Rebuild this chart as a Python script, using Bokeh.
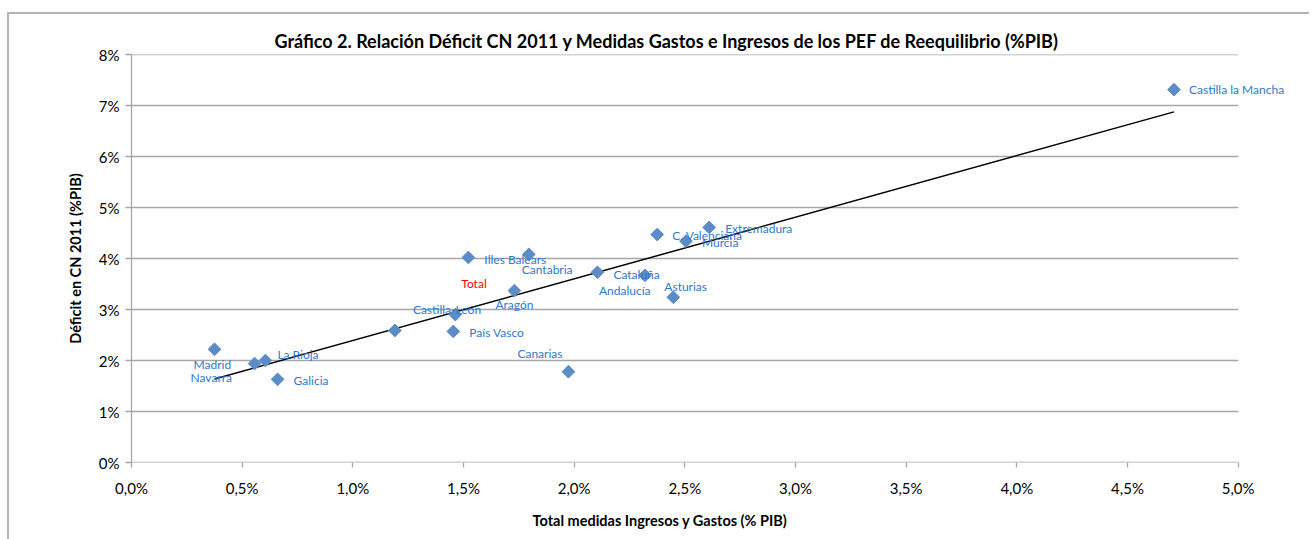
import numpy as np
from bokeh.plotting import figure
from bokeh.models import ColumnDataSource, FixedTicker, LabelSet, Range1d, Title
from bokeh.core.properties import value
from bokeh.embed import file_html
from bokeh.resources import INLINE

# ---------------- data ----------------
names = ["Castilla la Mancha", "Extremadura", "C. Valenciana", "Murcia", "Illes Balears",
         "Cantabria", "Cataluña", "Andalucía", "Asturias", "Aragón", "Total",
         "Castilla-León", "País Vasco", "Canarias", "Madrid", "Navarra", "La Rioja", "Galicia"]
medidas = [4.71, 2.61, 2.375, 2.505, 1.522, 1.795, 2.105, 2.32, 2.448, 1.73, 1.463,
           1.19, 1.454, 1.974, 0.375, 0.556, 0.605, 0.66]
deficit = [7.31, 4.61, 4.47, 4.34, 4.02, 4.08, 3.73, 3.67, 3.24, 3.37, 2.90,
           2.59, 2.57, 1.78, 2.22, 1.94, 2.00, 1.63]

x_ticks = [0.0, 0.5, 1.0, 1.5, 2.0, 2.5, 3.0, 3.5, 4.0, 4.5, 5.0]
x_tick_labels = ["0,0%", "0,5%", "1,0%", "1,5%", "2,0%", "2,5%", "3,0%", "3,5%", "4,0%", "4,5%", "5,0%"]
y_ticks = [0, 1, 2, 3, 4, 5, 6, 7, 8]
y_tick_labels = ["0%", "1%", "2%", "3%", "4%", "5%", "6%", "7%", "8%"]

title_text = "Gráfico 2. Relación Déficit CN 2011 y Medidas Gastos e Ingresos  de los PEF de Reequilibrio (%PIB)"
x_title = "Total medidas Ingresos y Gastos (% PIB)"
y_title = "Déficit en CN 2011 (%PIB)"

# label placement (screen pixels relative to each point; dy positive = downwards)
lab_dx = [15, 16, 15, 16, 16, -7, 16, -46, -9, -19, 6, 18, 16, -51, -21, -64, 12, 16]
lab_dy = [0, 1, 1, 1, 2, 15, 2, 15, -11, 14, -31, -21, 1, -18, 15, 14, -6, 1]
lab_col = ["#2f78cf"] * len(names)
lab_col[names.index("Total")] = "#ff0000"

FONT = "Lato"
GRAY = "#a6a6a6"

x_min, x_max = x_ticks[0], x_ticks[-1]
# frame extends a little beyond the last tick so the rightmost label is not clipped
p = figure(frame_width=1162, frame_height=408, output_backend="svg", toolbar_location=None,
           x_range=Range1d(x_min, 5.25), y_range=Range1d(y_ticks[0], y_ticks[-1]),
           min_border_left=122, min_border_right=16, min_border_top=40, min_border_bottom=77,
           margin=(12, 0, 0, 7),
           styles={"border-top": "2px solid #b3b3b3", "border-left": "2px solid #b3b3b3"})

p.title.text = title_text
p.title.align = "left"
p.title.offset = 143
p.title.text_font = FONT
p.title.text_font_size = "18px"
p.title.text_font_style = "bold"
p.title.text_color = "#000000"
p.title.standoff = 6

p.outline_line_color = None
p.background_fill_color = "white"
p.border_fill_color = "white"

# axes
p.xaxis.ticker = FixedTicker(ticks=x_ticks)
p.xaxis.major_label_overrides = {t: l for t, l in zip(x_ticks, x_tick_labels)}
p.yaxis.ticker = FixedTicker(ticks=y_ticks)
p.yaxis.major_label_overrides = {t: l for t, l in zip(y_ticks, y_tick_labels)}
for ax in (p.xaxis[0], p.yaxis[0]):
    ax.axis_line_color = GRAY
    ax.axis_line_width = 1.3
    ax.major_tick_line_color = GRAY
    ax.major_tick_line_width = 1.3
    ax.major_tick_in = 0
    ax.major_tick_out = 6
    ax.minor_tick_line_color = None
    ax.major_label_text_font = FONT
    ax.major_label_text_font_size = "15px"
    ax.major_label_text_color = "#000000"
    ax.axis_label_text_font = FONT
    ax.axis_label_text_font_size = "14.5px"
    ax.axis_label_text_font_style = "bold"
    ax.axis_label_text_color = "#000000"
p.xaxis.axis_line_color = None          # drawn below as a segment ending at 5,0%
p.xaxis.major_tick_out = 5
p.xaxis.major_label_standoff = 11
p.yaxis.major_label_standoff = 6
p.yaxis.axis_label = y_title
p.yaxis.axis_label_standoff = 12
p.xaxis.axis_label = None

p.xgrid.grid_line_color = None
p.ygrid.grid_line_color = None

# horizontal gridlines (and x axis line) from 0,0% to 5,0%
p.segment(x0=[x_min] * len(y_ticks), x1=[x_max] * len(y_ticks), y0=y_ticks, y1=y_ticks,
          line_color=GRAY, line_width=1.3)

# x axis title, placed slightly left of the frame centre as in the reference
p.add_layout(Title(text=x_title, align="left", offset=401, text_font=FONT,
                   text_font_size="14.5px", text_font_style="bold", text_color="#000000",
                   standoff=20), "below")

# trend line (least squares over the data)
mx = np.array(medidas)
my = np.array(deficit)
slope, icpt = np.polyfit(mx, my, 1)
tx = np.array([mx.min(), mx.max()])
p.line(tx, slope * tx + icpt, line_color="black", line_width=1.5)

src = ColumnDataSource(dict(x=medidas, y=deficit, name=names, dx=lab_dx,
                            dy=[-d for d in lab_dy], col=lab_col))
p.scatter("x", "y", source=src, marker="square", angle=np.pi / 4, size=9,
          fill_color="#5b8cc8", line_color="#5b8cc8")
p.add_layout(LabelSet(x="x", y="y", text="name", source=src, x_offset="dx", y_offset="dy",
                      text_font=value(FONT), text_font_size="12px", text_color="col",
                      text_align="left", text_baseline="middle"))

open("out.html", "w").write(file_html(p, INLINE))
